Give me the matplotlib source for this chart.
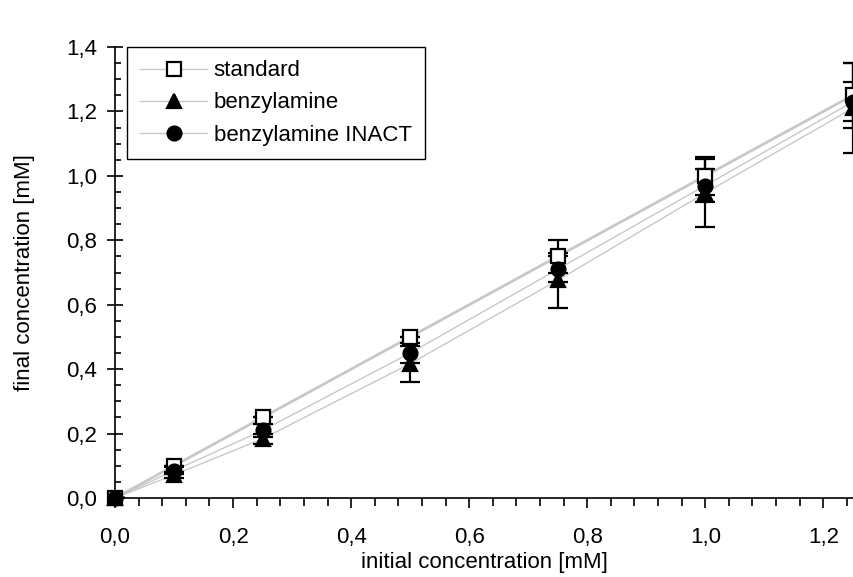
import numpy as np
import matplotlib
matplotlib.use('Agg')
import matplotlib.pyplot as plt
from matplotlib.ticker import MultipleLocator, FuncFormatter

plt.rcParams['font.family'] = ['Liberation Sans', 'DejaVu Sans']

# values
conc = [0.0, 0.1, 0.25, 0.5, 0.75, 1.0, 1.25]
standard = [0.0, 0.1, 0.25, 0.5, 0.75, 1.0, 1.25]
standard_err = [0.0, 0.0, 0.0, 0.0, 0.05, 0.06, 0.10]
benzyl = [0.0, 0.072, 0.184, 0.417, 0.676, 0.947, 1.21]
benzyl_err = [0.0, 0.01, 0.015, 0.056, 0.085, 0.106, 0.14]
inact = [0.0, 0.085, 0.21, 0.45, 0.71, 0.97, 1.23]
inact_err = [0.0, 0.01, 0.02, 0.03, 0.04, 0.05, 0.06]

FS = 16

fig = plt.figure(figsize=(8.54, 5.77), dpi=100)
ax = fig.add_axes([0.1347, 0.1369, 0.8653, 0.7816])

series = [
    (standard, standard_err, 's', 'white', 'standard', 2.0),
    (benzyl, benzyl_err, '^', 'black', 'benzylamine', 1.0),
    (inact, inact_err, 'o', 'black', 'benzylamine INACT', 1.0),
]

for y, err, mk, fc, name, lw in series:
    ax.plot(conc, y, color='#c8c8c8', lw=lw, zorder=1)
    ax.errorbar(conc, y, yerr=err, fmt='none', ecolor='black', elinewidth=1.6,
                capsize=7, capthick=1.6, zorder=2)
    ax.plot(conc, y, ls='none', marker=mk, ms=10, mfc=fc, mec='black', mew=1.6,
            zorder=3, clip_on=False)
    ax.plot([], [], color='#c8c8c8', lw=1.0, marker=mk, ms=10, mfc=fc,
            mec='black', mew=1.6, label=name)

ax.set_xlim(0, 1.252)
ax.set_ylim(0, 1.4)
ax.spines['top'].set_visible(False)
ax.spines['right'].set_visible(False)
ax.xaxis.set_major_locator(MultipleLocator(0.2))
ax.xaxis.set_minor_locator(MultipleLocator(0.04))
ax.yaxis.set_major_locator(MultipleLocator(0.2))
ax.yaxis.set_minor_locator(MultipleLocator(0.05))
comma = FuncFormatter(lambda v, p: f'{v:.1f}'.replace('.', ','))
ax.xaxis.set_major_formatter(comma)
ax.yaxis.set_major_formatter(comma)
ax.tick_params(axis='x', which='major', direction='out', length=7, width=1.2, labelsize=FS, pad=14)
ax.tick_params(axis='x', which='minor', direction='out', length=5.5, width=1.2)
ax.tick_params(axis='y', which='major', direction='inout', length=12, width=1.2, labelsize=FS, pad=7)
ax.tick_params(axis='y', which='minor', direction='in', length=4, width=1.2)
for s in ('left', 'bottom'):
    ax.spines[s].set_linewidth(1.2)

ax.set_xlabel('initial concentration [mM]', fontsize=FS, labelpad=3)
ax.set_ylabel('final concentration [mM]', fontsize=FS, labelpad=22)

leg = ax.legend(loc='upper left', bbox_to_anchor=(0.016, 1.0), fontsize=FS,
                frameon=True, fancybox=False, framealpha=1, edgecolor='black',
                handlelength=3.0, handletextpad=0.3, borderpad=0.6,
                labelspacing=0.5, borderaxespad=0)
leg.get_frame().set_linewidth(1.0)

fig.savefig('out.png', dpi=100)
